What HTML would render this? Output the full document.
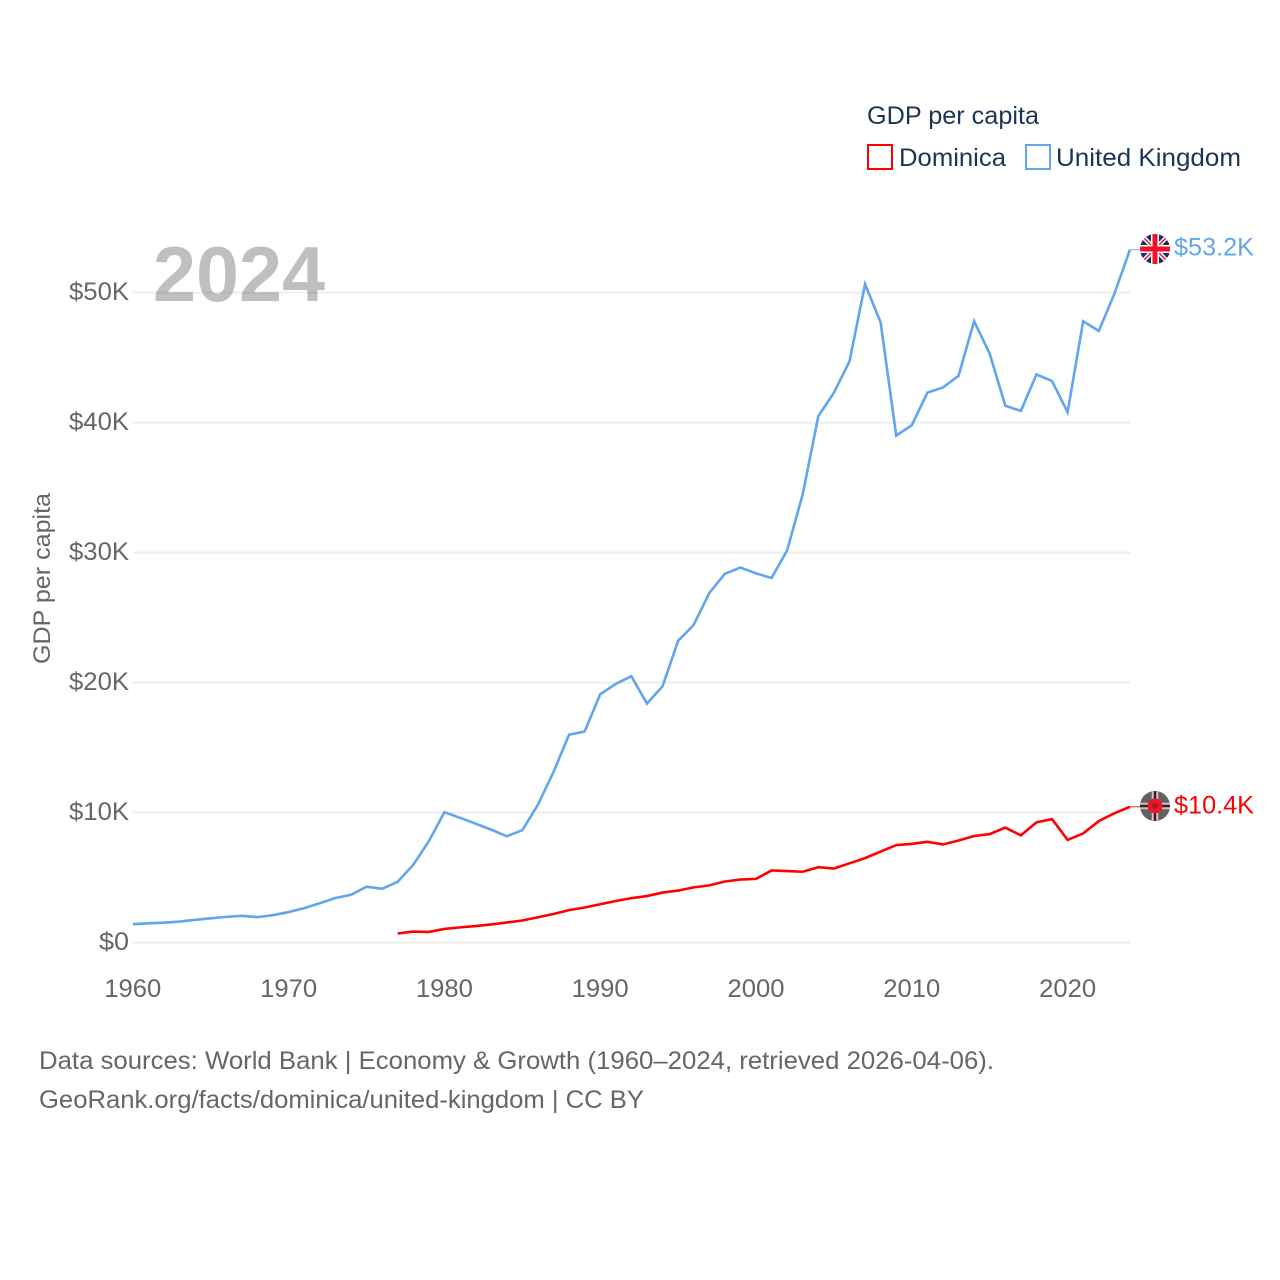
<!DOCTYPE html>
<html lang="en">
<head>
<meta charset="utf-8">
<title>GDP per capita: Dominica and United Kingdom</title>
<style>
html,body{margin:0;padding:0;background:#fff;width:1280px;height:1280px;overflow:hidden}
svg{display:block}
text{font-family:"Liberation Sans",sans-serif}
</style>
</head>
<body>
<svg id="chart" width="1280" height="1280" viewBox="0 0 1280 1280" xmlns="http://www.w3.org/2000/svg">
  <defs>
    <clipPath id="uk-clip"><circle cx="1155" cy="249" r="15"/></clipPath>
    <clipPath id="dm-clip"><circle cx="1155" cy="806" r="15"/></clipPath>
  </defs>
  <g id="grid"></g>
  <text x="153" y="301" font-size="78" font-weight="700" fill="#000" fill-opacity="0.25" textLength="172" lengthAdjust="spacingAndGlyphs">2024</text>
  <g id="y-ticks"></g>
  <g id="x-ticks"></g>
  <text transform="translate(50,664) rotate(-90)" font-size="24" fill="#666" textLength="171" lengthAdjust="spacingAndGlyphs">GDP per capita</text>
  <g id="series"></g>

  <g>
    <text x="867" y="124" font-size="25" fill="#1b3557" textLength="172" lengthAdjust="spacingAndGlyphs">GDP per capita</text>
    <rect x="868" y="145" width="24" height="24" fill="#fff" stroke="#ff0000" stroke-width="2"/>
    <text x="899" y="166" font-size="25" fill="#1b3557" textLength="107" lengthAdjust="spacingAndGlyphs">Dominica</text>
    <rect x="1026" y="145" width="24" height="24" fill="#fff" stroke="#60a5ee" stroke-width="2"/>
    <text x="1056" y="166" font-size="25" fill="#1b3557" textLength="185" lengthAdjust="spacingAndGlyphs">United Kingdom</text>
  </g>

  <g clip-path="url(#uk-clip)">
    <rect x="1140" y="234" width="30" height="30" fill="#1b2f5f"/>
    <path d="M1140 234L1170 264M1170 234L1140 264" stroke="#fff" stroke-width="4.5"/>
    <path d="M1140 234L1170 264M1170 234L1140 264" stroke="#e8112d" stroke-width="1.4"/>
    <path d="M1155 234V264M1140 249H1170" stroke="#fff" stroke-width="8"/>
    <path d="M1155 234V264M1140 249H1170" stroke="#f0102c" stroke-width="5"/>
  </g>
  <g clip-path="url(#dm-clip)">
    <rect x="1140" y="791" width="30" height="30" fill="#5f635f"/>
    <path d="M1155 791V821M1140 806H1170" stroke="#f3b7ae" stroke-width="6.5"/>
    <path d="M1155 791V821M1140 806H1170" stroke="#16264f" stroke-width="2.5"/>
    <circle cx="1155" cy="806" r="7.5" fill="#ee1528"/>
    <circle cx="1155" cy="806" r="3" fill="#a01c2c"/>
  </g>

  <g id="end-labels"></g>

  <g>
    <text x="39" y="1069" font-size="25" fill="#666" textLength="955" lengthAdjust="spacingAndGlyphs">Data sources: World Bank | Economy &amp; Growth (1960–2024, retrieved 2026-04-06).</text>
    <text x="39" y="1108" font-size="25" fill="#666" textLength="605" lengthAdjust="spacingAndGlyphs">GeoRank.org/facts/dominica/united-kingdom | CC BY</text>
  </g>
</svg>
<script>
const yTickValues = [0, 10, 20, 30, 40, 50];
const yTickLabels = ['$0', '$10K', '$20K', '$30K', '$40K', '$50K'];
const xTickYears = [1960, 1970, 1980, 1990, 2000, 2010, 2020];
const ukStartYear = 1960;
const ukValues = [1.42, 1.48, 1.53, 1.62, 1.75, 1.87, 1.98, 2.06, 1.96, 2.11, 2.35, 2.65, 3.03, 3.43, 3.67, 4.3, 4.14, 4.68, 5.98, 7.8, 10.03, 9.6, 9.15, 8.69, 8.18, 8.65, 10.6, 13.12, 15.99, 16.24, 19.1, 19.9, 20.49, 18.39, 19.71, 23.21, 24.44, 26.89, 28.37, 28.85, 28.4, 28.05, 30.17, 34.5, 40.5, 42.3, 44.7, 50.65, 47.7, 39.0, 39.8, 42.3, 42.7, 43.6, 47.8, 45.3, 41.3, 40.9, 43.7, 43.2, 40.8, 47.8, 47.05, 49.9, 53.3];
const dominicaStartYear = 1977;
const dominicaValues = [0.7, 0.85, 0.82, 1.05, 1.17, 1.27, 1.4, 1.55, 1.7, 1.95, 2.2, 2.5, 2.7, 2.95, 3.2, 3.42, 3.58, 3.85, 4.0, 4.25, 4.4, 4.7, 4.85, 4.9, 5.55, 5.5, 5.45, 5.8, 5.7, 6.1, 6.5, 7.0, 7.5, 7.6, 7.75, 7.55, 7.85, 8.2, 8.35, 8.85, 8.25, 9.25, 9.5, 7.9, 8.4, 9.35, 9.95, 10.45];
const ukLabel = '$53.2K';
const dominicaLabel = '$10.4K';

const NS = 'http://www.w3.org/2000/svg';
const xScale = year => 132.8 + (year - 1960) * 15.58;
const yScale = value => 942.6 - value * 13;

function make(tag, parent, attrs, text) {
  const el = document.createElementNS(NS, tag);
  Object.keys(attrs).forEach(k => el.setAttribute(k, attrs[k]));
  if (text !== undefined) el.textContent = text;
  parent.appendChild(el);
  return el;
}

const grid = document.getElementById('grid');
const yTicks = document.getElementById('y-ticks');
const xTicks = document.getElementById('x-ticks');
const series = document.getElementById('series');
const endLabels = document.getElementById('end-labels');

yTickValues.forEach((v, i) => {
  const line = make('line', grid, {x1: 133, x2: 1130, y1: yScale(v), y2: yScale(v), stroke: '#eeeeee', 'stroke-width': 2});
  
  
  const label = make('text', yTicks, {x: 129, y: yScale(v) + 7.4, 'font-size': 25, fill: '#666', 'text-anchor': 'end', textLength: yTickLabels[i].length * 15, lengthAdjust: 'spacingAndGlyphs'}, yTickLabels[i]);
  
  
});

xTickYears.forEach(year => {
  const label = make('text', xTicks, {x: xScale(year), y: 997, 'font-size': 25, fill: '#666', 'text-anchor': 'middle', textLength: 57, lengthAdjust: 'spacingAndGlyphs'}, String(year));
  
  
});

function linePath(values, startYear) {
  return values.map((v, i) => (i ? 'L' : 'M') + xScale(startYear + i).toFixed(2) + ' ' + yScale(v).toFixed(2)).join('');
}

const ukLast = ukValues[ukValues.length - 1];
const dominicaLast = dominicaValues[dominicaValues.length - 1];
const lastX = xScale(2024);

const ukLine = make('path', series, {d: linePath(ukValues, ukStartYear), fill: 'none', stroke: '#60a5ee', 'stroke-width': 2.6, 'stroke-linejoin': 'miter'});


const ukLeader = make('line', series, {x1: lastX, x2: 1140, y1: yScale(ukLast), y2: yScale(ukLast), stroke: '#60a5ee', 'stroke-width': 1.2, opacity: 0.7});



const dmLine = make('path', series, {d: linePath(dominicaValues, dominicaStartYear), fill: 'none', stroke: '#ff0000', 'stroke-width': 2.6, 'stroke-linejoin': 'miter'});


const dmLeader = make('line', series, {x1: lastX, x2: 1140, y1: yScale(dominicaLast), y2: yScale(dominicaLast), stroke: '#ff0000', 'stroke-width': 1.2, opacity: 0.7});



const ukEnd = make('text', endLabels, {x: 1174, y: 255.5, 'font-size': 25, fill: '#60a5ee', textLength: 80, lengthAdjust: 'spacingAndGlyphs'}, ukLabel);


const dmEnd = make('text', endLabels, {x: 1174, y: 813.5, 'font-size': 25, fill: '#ff0000', textLength: 80, lengthAdjust: 'spacingAndGlyphs'}, dominicaLabel);


</script>
</body>
</html>
